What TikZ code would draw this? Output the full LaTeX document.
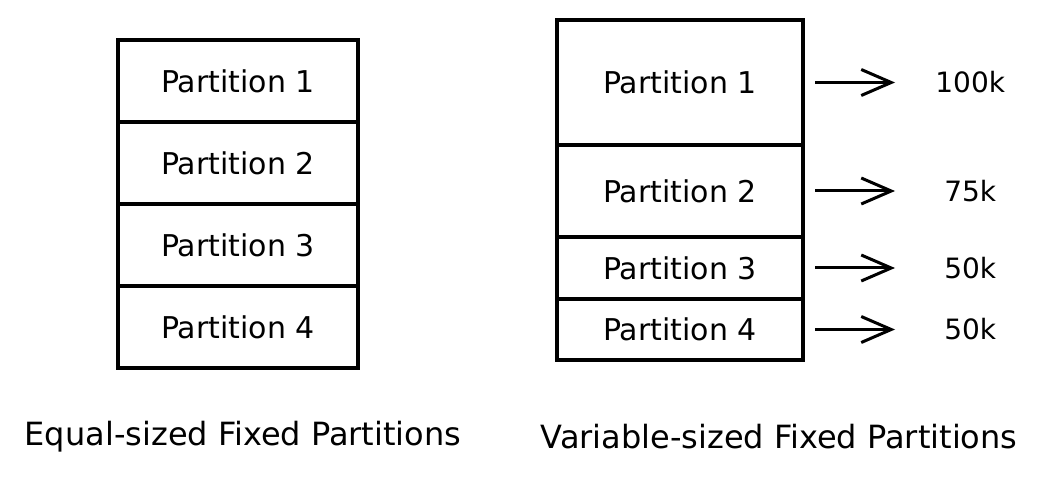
\documentclass[tikz,border=0pt]{standalone}
\usepackage{fontspec}
\setmainfont{DejaVu Sans}
\usepackage{tikz}
\usetikzlibrary{positioning, arrows.meta}

\begin{document}
\begin{tikzpicture}[x=1pt, y=-1pt,
      part/.style={draw, line width=3.4pt, outer sep=0pt, inner sep=0pt,
        font=\fontsize{30}{34}\selectfont},
      eqpart/.style={part, minimum width=240pt, minimum height=82pt},
      val/.style={font=\fontsize{28}{32}\selectfont, text width=76pt, align=center, inner sep=0pt},
      captext/.style={font=\fontsize{32}{36}\selectfont},
      arr/.style={line width=3pt, -{Straight Barb[length=30pt, width=26pt, line width=3pt]}}]
      \useasboundingbox (0,0) rectangle (1038,478);

      \node[eqpart, anchor=north west] (p1) at (118,40) {Partition 1};
      \node[eqpart, below=0pt of p1] (p2) {Partition 2};
      \node[eqpart, below=0pt of p2] (p3) {Partition 3};
      \node[eqpart, below=0pt of p3] (p4) {Partition 4};

      \node[part, minimum width=246pt, minimum height=125pt, anchor=north west] (q1) at (557,20) {Partition 1};
      \node[part, minimum width=246pt, minimum height=92pt, below=0pt of q1] (q2) {Partition 2};
      \node[part, minimum width=246pt, minimum height=62pt, below=0pt of q2] (q3) {Partition 3};
      \node[part, minimum width=246pt, minimum height=61pt, below=0pt of q3] (q4) {Partition 4};

      \node[val, right=129pt of q1] (k1) {100k};
      \node[val, right=129pt of q2] (k2) {75k};
      \node[val, right=129pt of q3] (k3) {50k};
      \node[val, right=129pt of q4] (k4) {50k};

      \draw[arr] ([xshift=12pt]q1.east) -- ([xshift=-37pt]k1.west);
      \draw[arr] ([xshift=12pt]q2.east) -- ([xshift=-37pt]k2.west);
      \draw[arr] ([xshift=12pt]q3.east) -- ([xshift=-37pt]k3.west);
      \draw[arr] ([xshift=12pt]q4.east) -- ([xshift=-37pt]k4.west);

      \node[captext] (eqcap) at (243,437) {Equal-sized Fixed Partitions};
      \node[captext] (varcap) at (779,437) {Variable-sized Fixed Partitions};
\end{tikzpicture}
\end{document}
